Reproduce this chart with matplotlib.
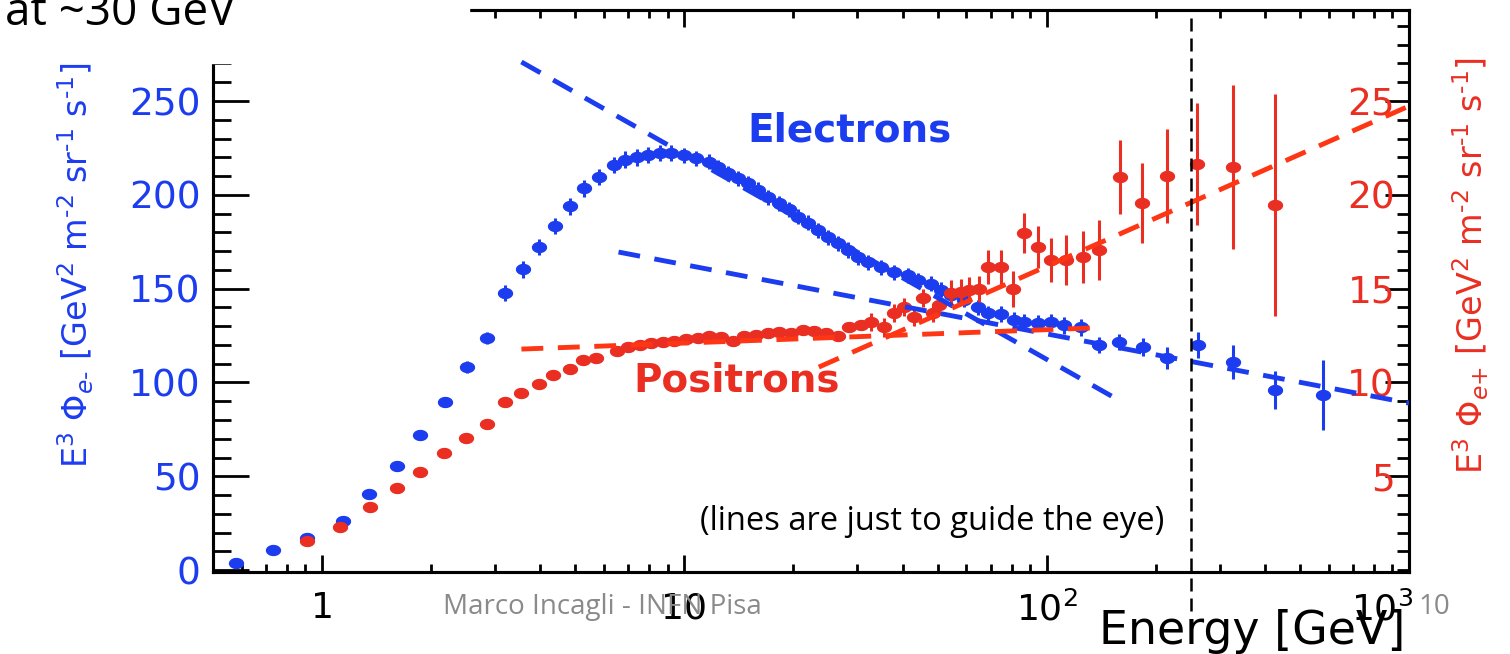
import numpy as np
import matplotlib
matplotlib.use('Agg')
import matplotlib.pyplot as plt
from matplotlib.path import Path
from matplotlib.patches import Rectangle
from matplotlib.transforms import ScaledTranslation
from matplotlib.ticker import FixedLocator, LogLocator, MultipleLocator, NullFormatter

# electron spectrum, E^3 * flux  [GeV^2 m^-2 sr^-1 s^-1]
e_energy = [0.58, 0.73, 0.91, 1.14, 1.35, 1.61, 1.86, 2.18, 2.51, 2.85,
            3.19, 3.58, 3.96, 4.39, 4.82, 5.30, 5.80, 6.38, 6.84, 7.38,
            7.96, 8.54, 9.21, 10.0, 10.8, 11.7, 12.4, 13.2, 14.1, 15.0,
            16.0, 17.0, 18.2, 19.4, 20.6, 22.0, 23.4, 24.9, 26.6, 28.3,
            30.2, 32.1, 34.9, 37.9, 41.4, 44.1, 47.9, 51.1, 54.4, 59.1,
            64.6, 68.8, 74.7, 81.1, 86.4, 94.5, 102.6, 111.4, 124.1, 139.1,
            157.9, 183.9, 215.4, 262.3, 327.4, 427.5, 579.6]
e_flux = [3.7, 10.7, 17.1, 26.1, 40.5, 55.4, 72.0, 89.6, 108.2, 123.7,
          147.7, 160.4, 172.2, 183.4, 194.0, 203.6, 209.5, 215.9, 218.6, 220.1,
          221.2, 222.3, 222.3, 221.2, 219.6, 217.5, 214.8, 211.6, 208.9, 206.3,
          202.6, 198.8, 195.6, 192.2, 188.2, 185.0, 181.2, 177.5, 174.3, 170.6,
          166.8, 164.2, 161.5, 158.8, 157.2, 154.6, 152.5, 149.3, 146.6, 144.0,
          140.2, 137.0, 136.5, 133.3, 132.2, 131.7, 132.2, 130.6, 129.5, 119.9,
          121.5, 118.9, 113.0, 119.9, 110.9, 95.9, 93.3]
e_err = [1.0, 1.0, 1.5, 1.5, 2.0, 2.0, 2.5, 2.5, 3.0, 3.0,
         4.5, 4.5, 4.5, 4.5, 4.5, 4.5, 4.5, 4.5, 4.5, 4.5,
         4.5, 4.5, 4.5, 4.0, 4.0, 4.0, 4.0, 4.0, 4.0, 4.0,
         4.0, 4.0, 4.0, 4.0, 4.0, 4.0, 4.0, 4.0, 4.0, 4.0,
         4.0, 4.0, 4.0, 4.0, 4.0, 4.0, 4.0, 4.0, 4.0, 4.0,
         4.0, 4.0, 4.5, 4.5, 4.5, 4.5, 4.5, 4.5, 4.5, 4.3,
         4.3, 4.8, 5.9, 6.9, 9.1, 10.1, 18.7]

# positron spectrum (right axis)
p_energy = [0.91, 1.12, 1.36, 1.61, 1.86, 2.17, 2.49, 2.85, 3.19, 3.55,
            3.96, 4.35, 4.82, 5.26, 5.72, 6.50, 7.01, 7.52, 8.11, 8.75,
            9.39, 10.13, 10.93, 11.72, 12.65, 13.65, 14.63, 15.79, 17.04, 18.27,
            19.71, 21.28, 22.81, 24.61, 26.57, 28.49, 30.74, 32.74, 35.56, 37.89,
            40.37, 43.02, 45.54, 48.53, 50.41, 54.39, 57.98, 60.97, 64.97, 68.79,
            74.69, 80.59, 86.43, 94.45, 102.6, 112.8, 125.7, 139.1, 158.9, 182.7,
            215.4, 260.6, 327.4, 427.5]
p_flux = [1.55, 2.29, 3.36, 4.37, 5.22, 6.24, 7.04, 7.78, 8.96, 9.43,
          9.91, 10.39, 10.71, 11.19, 11.30, 11.67, 11.89, 11.99, 12.10, 12.15,
          12.21, 12.31, 12.37, 12.47, 12.42, 12.21, 12.47, 12.53, 12.63, 12.69,
          12.63, 12.79, 12.74, 12.63, 12.47, 12.95, 13.06, 13.22, 12.95, 13.70,
          14.02, 13.49, 14.50, 13.70, 14.13, 14.77, 14.82, 14.93, 14.98, 16.15,
          16.15, 14.98, 17.96, 17.22, 16.52, 16.52, 16.68, 17.06, 20.95, 19.56,
          21.00, 21.64, 21.48, 19.46]
p_err = [0.15, 0.15, 0.15, 0.15, 0.15, 0.15, 0.15, 0.15, 0.15, 0.15,
         0.15, 0.15, 0.15, 0.15, 0.15, 0.25, 0.25, 0.25, 0.25, 0.25,
         0.25, 0.25, 0.25, 0.25, 0.25, 0.25, 0.25, 0.25, 0.25, 0.25,
         0.25, 0.25, 0.25, 0.25, 0.25, 0.25, 0.25, 0.5, 0.5, 0.5,
         0.5, 0.5, 0.5, 0.5, 0.5, 0.7, 0.7, 0.7, 0.7, 0.9,
         0.9, 0.97, 1.07, 1.12, 1.17, 1.33, 1.39, 1.6, 1.97, 2.13,
         2.5, 3.25, 4.37, 5.9]

# dashed guides (end points)
blue_steep_e, blue_steep_v = [3.55, 158.0], [270.8, 90.6]
blue_flat_e, blue_flat_v = [6.58, 1000.0], [169.5, 89.0]
red_flat_e, red_flat_v = [3.55, 132.0], [11.78, 12.90]
red_rise_e, red_rise_v = [23.5, 1000.0], [10.82, 24.73]
cut_energy = 250.0

x_ticks = [1, 10, 100, 1000]
x_tick_labels = ['1', '10', '$10^2$', '$10^3$']
left_ticks = [0, 50, 100, 150, 200, 250]
right_ticks = [5, 10, 15, 20, 25]

BLUE = '#1c3cf0'
RED = '#ea2e22'
RED_DASH = '#ff3614'
GREY = '#8a8a8a'

# slightly wide elliptical marker
t = np.linspace(0, 2 * np.pi, 41)
ellipse = Path(np.column_stack([1.4 * np.cos(t), np.sin(t)]), closed=True)

fig = plt.figure(figsize=(15.1, 6.54), dpi=100)
ax = fig.add_axes([213 / 1510, 82 / 654, 1196 / 1510, 562 / 654])
ax.set_xscale('log')
ax.set_xlim(0.5, 1000)
ax.set_ylim(-1, 298.5)

ax.xaxis.set_major_locator(FixedLocator(x_ticks))
ax.set_xticklabels(x_tick_labels)
ax.xaxis.set_minor_locator(LogLocator(base=10, subs=np.arange(2, 10)))
ax.xaxis.set_minor_formatter(NullFormatter())
ax.tick_params(axis='x', which='major', direction='in', length=12, width=2,
               top=True, labelsize=26, pad=14)
ax.tick_params(axis='x', which='minor', direction='in', length=6, width=2, top=True)
# the 10^3 label sits a little left of its tick
last = ax.get_xticklabels()[-1]
last.set_transform(last.get_transform() + ScaledTranslation(-0.27, 0, fig.dpi_scale_trans))

ax.yaxis.set_major_locator(FixedLocator(left_ticks))
ax.yaxis.set_minor_locator(MultipleLocator(10))
ax.tick_params(axis='y', which='major', direction='in', length=26, width=2,
               labelsize=27, labelcolor=BLUE, pad=9)
ax.tick_params(axis='y', which='minor', direction='in', length=13, width=2)

ax2 = ax.twinx()
ax2.set_ylim(-0.1, 29.85)
ax2.yaxis.set_major_locator(FixedLocator(right_ticks))
ax2.yaxis.set_minor_locator(MultipleLocator(1))
ax2.tick_params(axis='y', which='major', direction='in', length=17, width=2,
                labelsize=27, labelcolor=RED, pad=-10)
ax2.tick_params(axis='y', which='minor', direction='in', length=9, width=2)
for lbl in ax2.get_yticklabels():
    lbl.set_horizontalalignment('right')

for a in (ax, ax2):
    for s in a.spines.values():
        s.set_linewidth(2.2)

ax.errorbar(e_energy, e_flux, yerr=e_err, ls='none', marker=ellipse, ms=10,
            color=BLUE, elinewidth=2.2, capsize=0, zorder=3)
ax2.errorbar(p_energy, p_flux, yerr=p_err, ls='none', marker=ellipse, ms=10,
             color=RED, elinewidth=2.2, capsize=0, zorder=3)

# guide lines on top of both data sets
ax2.plot(blue_steep_e, blue_steep_v, transform=ax.transData, color=BLUE,
         lw=3.5, dashes=(4.5, 3), zorder=6)
ax2.plot(blue_flat_e, blue_flat_v, transform=ax.transData, color=BLUE,
         lw=3.5, dashes=(4.5, 3), zorder=6)
ax2.plot(red_flat_e, red_flat_v, color=RED_DASH, lw=3.5, dashes=(4.5, 3), zorder=6)
ax2.plot(red_rise_e, red_rise_v, color=RED_DASH, lw=3.5, dashes=(4.5, 3), zorder=6)
ax2.axvline(cut_energy, ymin=-0.07, ymax=1.0, clip_on=False, color='black',
            lw=1.8, dashes=(5.2, 2.8), zorder=7)

ax.text(0.5326, 0.7847, 'Electrons', transform=ax.transAxes, ha='center',
        va='center', fontsize=28, fontweight='bold', color=BLUE)
ax.text(0.4381, 0.3399, 'Positrons', transform=ax.transAxes, ha='center',
        va='center', fontsize=28, fontweight='bold', color=RED)

ylab = r'E$^3$ $\Phi_{e\text{%s}}$ [GeV$^2$ m$^{\text{-}2}$ sr$^{\text{-}1}$ s$^{\text{-}1}$]'
fig.text(76 / 1510, 389 / 654, ylab % '-', rotation=90, ha='center',
         va='center', fontsize=24, color=BLUE)
fig.text(1471 / 1510, 389 / 654, ylab % '+', rotation=90, ha='center',
         va='center', fontsize=24, color=RED)
fig.text(1405 / 1510, 22 / 654, 'Energy [GeV]', ha='right', va='center', fontsize=33)

# slide overlay: title box, footer and note
fig.patches.append(Rectangle((0, 591 / 654), 469 / 1510, 63 / 654,
                             transform=fig.transFigure, color='white', zorder=5))
fig.text(5 / 1510, 629 / 654, 'at ~30 GeV', family='Open Sans', fontsize=33,
         va='baseline', ha='left', zorder=6)
fig.text(932 / 1510, 132 / 654, '(lines are just to guide the eye)',
         family='Open Sans', fontsize=23.5, ha='center', va='center', zorder=6)
fig.text(602 / 1510, 47 / 654, 'Marco Incagli - INFN Pisa', family='Open Sans',
         fontsize=20, color=GREY, ha='center', va='center', zorder=6)
fig.text(1434 / 1510, 47 / 654, '10', family='Open Sans', fontsize=20,
         color=GREY, ha='center', va='center', zorder=6)

fig.savefig('out.png', dpi=100)
